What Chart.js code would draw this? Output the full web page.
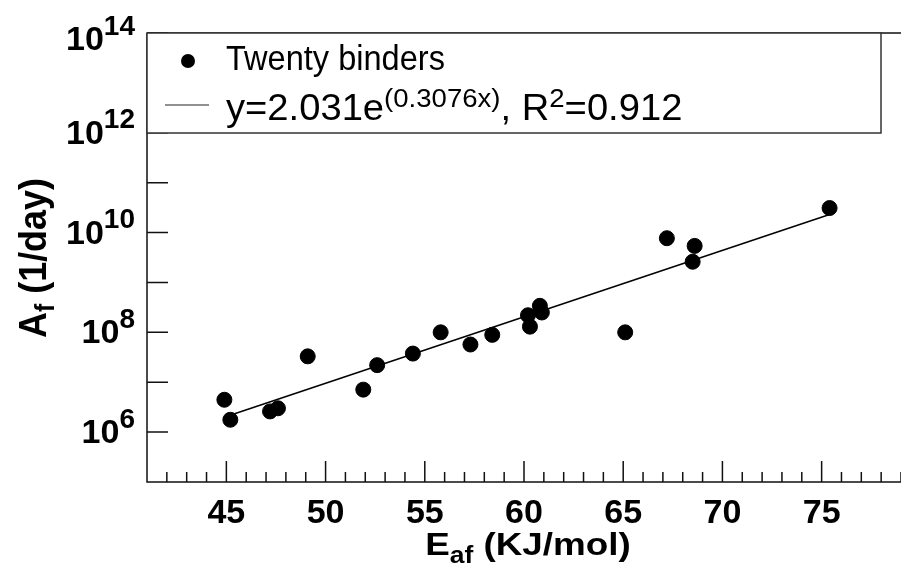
<!DOCTYPE html>
<html>
<head>
<meta charset="utf-8">
<script src="https://cdn.jsdelivr.net/npm/chart.js@4/dist/chart.umd.min.js"></script>
<style>
  html, body { margin: 0; padding: 0; background: #fff; }
  canvas { display: block; }
</style>
</head>
<body>
<canvas id="arrhenius" width="901" height="571"></canvas>
<script>
// --- Dados ---
const eaf = [44.9, 45.2, 47.2, 47.6, 49.1, 51.9, 52.6, 54.4, 55.8, 57.3,
             58.4, 60.2, 60.3, 60.8, 60.9, 65.1, 67.2, 68.6, 68.5, 75.4];
const af = [4.45e6, 1.77e6, 2.6e6, 3.0e6, 3.3e7, 7.1e6, 2.2e7, 3.75e7, 1.0e8, 5.7e7,
            8.9e7, 2.2e8, 1.3e8, 3.4e8, 2.5e8, 1.0e8, 7.7e9, 5.4e9, 2.6e9, 3.1e10];
const fitX = [45.3, 75.4];
const fitY = [2.25e6, 2.3e10];
const xMajorTicks = [45, 50, 55, 60, 65, 70, 75];
const yLabelExponents = [6, 8, 10, 12, 14];
const seriesLabel = 'Twenty binders';

// desenha texto com sobrescrito / subscrito
function richText(ctx, parts, x, y, align, scaleX) {
    scaleX = scaleX || 1;
    let w = 0;
    parts.forEach(p => { ctx.font = p.font; w += ctx.measureText(p.t).width * scaleX; });
    let cx = align === 'center' ? x - w / 2 : align === 'right' ? x - w : x;
    parts.forEach(p => {
        ctx.font = p.font;
        ctx.save();
        ctx.translate(cx, y + (p.dy || 0));
        ctx.scale(scaleX, 1);
        ctx.fillText(p.t, 0, 0);
        ctx.restore();
        cx += ctx.measureText(p.t).width * scaleX;
    });
}

const F = 'Liberation Sans, Arial, Helvetica, sans-serif';

const axesPlugin = {
    id: 'axesPlugin',
    afterDatasetsDraw(chart) {
        const { ctx, chartArea: a, scales: { x, y } } = chart;
        ctx.save();
        ctx.strokeStyle = '#111';
        ctx.lineWidth = 1.5;
        ctx.beginPath();
        ctx.moveTo(a.left, a.top);
        ctx.lineTo(a.left, a.bottom);
        ctx.lineTo(a.right, a.bottom);
        ctx.moveTo(a.left, a.top);
        ctx.lineTo(a.right, a.top);
        ctx.stroke();

        // ticks do eixo x (para dentro)
        ctx.beginPath();
        for (let v = Math.ceil(x.min); v <= x.max; v++) {
            if (v === x.min) continue;
            const px = x.getPixelForValue(v);
            const len = xMajorTicks.includes(v) ? 21 : 10;
            ctx.moveTo(px, a.bottom);
            ctx.lineTo(px, a.bottom - len);
        }
        // ticks do eixo y (cada década)
        for (let e = Math.log10(y.min) + 1; e <= Math.log10(y.max); e++) {
            const py = y.getPixelForValue(Math.pow(10, e));
            ctx.moveTo(a.left, py);
            ctx.lineTo(a.left + 21, py);
        }
        ctx.stroke();

        ctx.fillStyle = '#000';
        ctx.textBaseline = 'alphabetic';
        ctx.font = 'bold 34px ' + F;
        ctx.textAlign = 'center';
        xMajorTicks.forEach(v => {
            ctx.fillText(String(v), x.getPixelForValue(v), 523);
        });
        ctx.textAlign = 'left';
        yLabelExponents.forEach(e => {
            const py = y.getPixelForValue(Math.pow(10, e));
            const shift = Math.max(0, 15 - (py - 24));
            richText(ctx, [
                { t: '10', font: 'bold 34px ' + F, dy: 11 },
                { t: String(e), font: 'bold 28px ' + F, dy: -4.5 }
            ], 135, py + shift, 'right');
        });

        // títulos dos eixos
        richText(ctx, [
            { t: 'E', font: 'bold 32px ' + F },
            { t: 'af', font: 'bold 23px ' + F, dy: 8 },
            { t: ' (KJ/mol)', font: 'bold 32px ' + F }
        ], 528, 555, 'center', 1.15);

        ctx.save();
        ctx.translate(46, 258);
        ctx.rotate(-Math.PI / 2);
        richText(ctx, [
            { t: 'A', font: 'bold 39px ' + F },
            { t: 'f', font: 'bold 27px ' + F, dy: 8 },
            { t: ' (1/day)', font: 'bold 39px ' + F }
        ], 0, 0, 'center', 0.92);
        ctx.restore();
        ctx.restore();
    },
    afterDraw(chart) {
        // legenda com sobrescritos
        const { ctx } = chart;
        ctx.save();
        ctx.fillStyle = '#fff';
        ctx.strokeStyle = '#333';
        ctx.lineWidth = 1.5;
        ctx.fillRect(147, 33, 734, 100);
        ctx.strokeRect(147, 33, 734, 100);

        ctx.fillStyle = '#000';
        ctx.beginPath();
        ctx.arc(188, 61, 7, 0, Math.PI * 2);
        ctx.fill();
        ctx.strokeStyle = '#222';
        ctx.lineWidth = 1.2;
        ctx.beginPath();
        ctx.moveTo(165, 105);
        ctx.lineTo(209, 105);
        ctx.stroke();

        richText(ctx, [{ t: seriesLabel, font: '35px ' + F }], 226, 70, 'left', 0.93);
        richText(ctx, [
            { t: 'y=2.031e', font: '36px ' + F },
            { t: '(0.3076x)', font: '26px ' + F, dy: -13 },
            { t: ', R', font: '36px ' + F },
            { t: '2', font: '26px ' + F, dy: -13 },
            { t: '=0.912', font: '36px ' + F }
        ], 226, 120, 'left', 1.06);
        ctx.restore();
    }
};

new Chart(document.getElementById('arrhenius'), {
    type: 'scatter',
    data: {
        datasets: [
            {
                label: seriesLabel,
                data: eaf.map((v, i) => ({ x: v, y: af[i] })),
                backgroundColor: '#000',
                borderColor: '#000',
                pointRadius: 7.5,
                pointHoverRadius: 7.5
            },
            {
                label: 'fit',
                type: 'line',
                data: fitX.map((v, i) => ({ x: v, y: fitY[i] })),
                borderColor: '#000',
                borderWidth: 1.5,
                pointRadius: 0,
                fill: false
            }
        ]
    },
    options: {
        responsive: false,
        animation: false,
        devicePixelRatio: 1,
        layout: { autoPadding: false, padding: { left: 147, top: 33, right: 0, bottom: 89 } },
        plugins: { legend: { display: false }, tooltip: { enabled: false } },
        scales: {
            x: { type: 'linear', min: 41, max: 79, display: false },
            y: { type: 'logarithmic', min: 1e5, max: 1e14, display: false }
        }
    },
    plugins: [axesPlugin]
});
</script>
</body>
</html>
